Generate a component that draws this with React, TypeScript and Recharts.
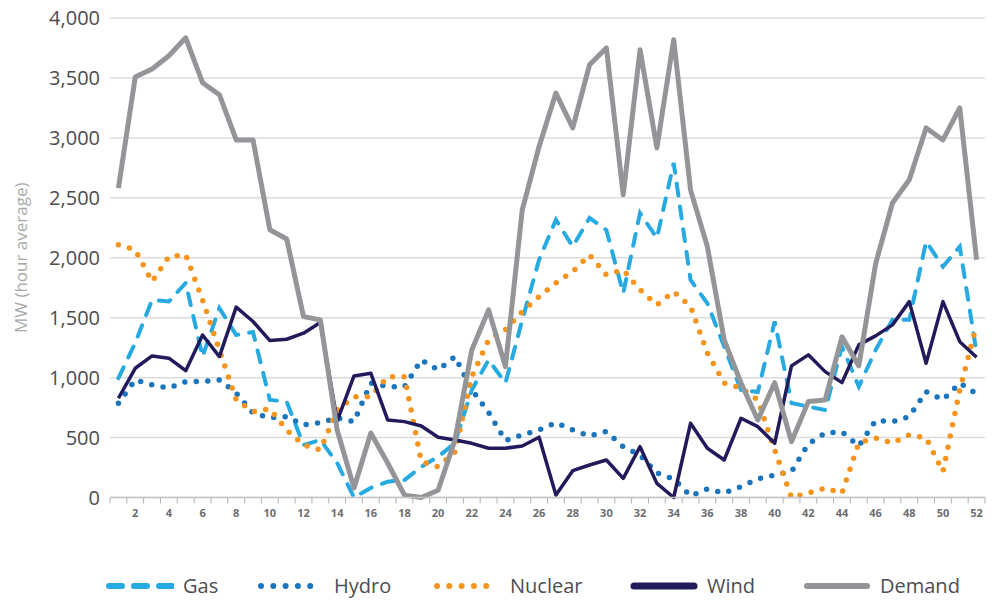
import React from 'react';
import { LineChart, Line, XAxis, YAxis, CartesianGrid } from 'recharts';

const WEEKS = [
  1, 2, 3, 4, 5, 6, 7, 8, 9, 10, 11, 12, 13, 14, 15, 16, 17, 18, 19, 20, 21, 22, 23, 24, 25, 26,
  27, 28, 29, 30, 31, 32, 33, 34, 35, 36, 37, 38, 39, 40, 41, 42, 43, 44, 45, 46, 47, 48, 49, 50, 51, 52,
];

const GAS = [
  995, 1290, 1648, 1635, 1790, 1175, 1580, 1356, 1380, 814, 800, 438, 480, 288, 0, 80, 132, 146, 257, 340,
  455, 897, 1148, 955, 1480, 1983, 2317, 2093, 2332, 2230, 1705, 2372, 2164, 2790, 1815, 1620, 1259, 897,
  880, 1468, 788, 758, 730, 1259, 925, 1231, 1482, 1482, 2135, 1926, 2093, 1206,
];
const HYDRO = [
  786, 981, 939, 914, 967, 967, 981, 872, 705, 664, 675, 605, 624, 664, 633, 955, 925, 922, 1148, 1064,
  1175, 900, 710, 474, 522, 563, 624, 563, 513, 550, 424, 355, 204, 155, 12, 71, 37, 90, 155, 188,
  216, 447, 538, 547, 430, 641, 633, 675, 883, 814, 955, 864,
];
const NUCLEAR = [
  2108, 2066, 1801, 2010, 2024, 1648, 1231, 814, 716, 739, 563, 438, 397, 730, 841, 841, 1008, 1008, 300, 257,
  380, 1008, 1315, 1398, 1551, 1676, 1790, 1885, 2024, 1857, 1899, 1732, 1607, 1718, 1593, 1206, 955, 914,
  814, 397, 0, 37, 79, 37, 455, 497, 455, 522, 497, 216, 897, 1440,
];
const WIND = [
  828, 1078, 1181, 1162, 1058, 1356, 1175, 1588, 1468, 1309, 1320, 1371, 1459, 640, 1014, 1037, 647, 633, 597, 503,
  480, 452, 411, 411, 430, 503, 21, 224, 271, 313, 160, 424, 118, 0, 619, 411, 313, 661, 591, 452,
  1098, 1190, 1050, 958, 1273, 1348, 1440, 1634, 1120, 1634, 1300, 1170,
];
const DEMAND = [
  2581, 3507, 3575, 3685, 3835, 3460, 3360, 2983, 2983, 2233, 2157, 1509, 1482, 563, 80, 538, 288, 20, 0, 60,
  480, 1231, 1565, 1092, 2400, 2928, 3374, 3083, 3610, 3750, 2525, 3735, 2916, 3819, 2566, 2093, 1315, 955,
  647, 958, 466, 800, 814, 1340, 1098, 1950, 2457, 2650, 3083, 2983, 3250, 1983,
];

const Y_TICKS = [0, 500, 1000, 1500, 2000, 2500, 3000, 3500, 4000];

const SERIES = [
  { key: 'gas', name: 'Gas', color: '#27aae1' },
  { key: 'hydro', name: 'Hydro', color: '#1b75bc' },
  { key: 'nuclear', name: 'Nuclear', color: '#f7941d' },
  { key: 'wind', name: 'Wind', color: '#211a5b' },
  { key: 'demand', name: 'Demand', color: '#939598' },
];

const data = WEEKS.map((week, i) => ({
  week,
  gas: GAS[i],
  hydro: HYDRO[i],
  nuclear: NUCLEAR[i],
  wind: WIND[i],
  demand: DEMAND[i],
}));

const W = 994;
const H = 540;
const PLOT_LEFT = 110;
const PLOT_RIGHT = 985;
const STEP = (PLOT_RIGHT - PLOT_LEFT) / WEEKS.length;
const FONT = '"Open Sans", "DejaVu Sans", sans-serif';
const TEXT = '#4d4d4f';

function WeekTick({ x, y, payload, index }: any) {
  const half = STEP / 2;
  const last = index === WEEKS.length - 1;
  return (
    <g>
      <line x1={x - half} x2={x - half} y1={y} y2={y + 6} stroke="#b3b3b3" strokeWidth={1} />
      {last && <line x1={x + half} x2={x + half} y1={y} y2={y + 6} stroke="#b3b3b3" strokeWidth={1} />}
      {payload.value % 2 === 0 && (
        <text x={x} y={y + 19} textAnchor="middle" fontSize={11} fontWeight={700} fill="#6d6e71">
          {payload.value}
        </text>
      )}
    </g>
  );
}

function YLabel({ viewBox }: any) {
  const cx = 20;
  const cy = viewBox.y + viewBox.height / 2;
  return (
    <text
      transform={`translate(${cx},${cy}) rotate(-90)`}
      textAnchor="middle"
      dominantBaseline="central"
      fontSize={17}
      fill="#a7a9ac"
    >
      MW (hour average)
    </text>
  );
}

function LegendIcon({ k, color }: { k: string; color: string }) {
  if (k === 'gas') {
    return (
      <svg width={68} height={10}>
        <line x1={3} x2={66} y1={5} y2={5} stroke={color} strokeWidth={6} strokeLinecap="round" strokeDasharray="13 12" />
      </svg>
    );
  }
  if (k === 'hydro' || k === 'nuclear') {
    return (
      <svg width={68} height={10}>
        <line x1={4} x2={60} y1={5} y2={5} stroke={color} strokeWidth={6} strokeLinecap="round" strokeDasharray="0 12.3" />
      </svg>
    );
  }
  return (
    <svg width={68} height={10}>
      <line x1={4} x2={64} y1={5} y2={5} stroke={color} strokeWidth={k === 'wind' ? 7 : 6} strokeLinecap="round" />
    </svg>
  );
}

const LEGEND_LEFT = [106, 257, 433, 630, 803];

function ChartLegend() {
  return (
    <div style={{ position: 'absolute', top: 574, left: 0, width: W, height: 24 }}>
      {SERIES.map((s, i) => (
        <div
          key={s.key}
          style={{ position: 'absolute', left: LEGEND_LEFT[i], top: 0, display: 'flex', alignItems: 'center', height: 24 }}
        >
          <LegendIcon k={s.key} color={s.color} />
          <span style={{ marginLeft: 9, fontSize: 20, color: TEXT, lineHeight: '24px' }}>{s.name}</span>
        </div>
      ))}
    </div>
  );
}

export default function App() {
  return (
    <div style={{ position: 'relative', width: W, height: 602, background: '#fff', fontFamily: FONT }}>
      <style>{'body{margin:0}'}</style>
      <LineChart width={W} height={H} data={data} margin={{ top: 18, right: W - PLOT_RIGHT, bottom: 2.5, left: 0 }}>
        <CartesianGrid horizontal vertical={false} stroke="#dcdcdc" strokeWidth={1.5} />
        <XAxis
          dataKey="week"
          interval={0}
          height={40}
          tickLine={false}
          tickSize={0}
          tickMargin={0}
          axisLine={{ stroke: '#c4c4c4', strokeWidth: 1.5 }}
          padding={{ left: STEP / 2, right: STEP / 2 }}
          tick={<WeekTick />}
        />
        <YAxis
          width={PLOT_LEFT}
          domain={[0, 4000]}
          ticks={Y_TICKS}
          axisLine={false}
          tickLine={false}
          tickSize={0}
          tickMargin={10}
          tick={{ fontSize: 20, fill: TEXT }}
          tickFormatter={(v: number) => v.toLocaleString('en-US')}
          label={{ content: <YLabel /> }}
        />
        <Line
          dataKey="gas"
          name="Gas"
          type="linear"
          stroke="#27aae1"
          strokeWidth={4}
          strokeDasharray="12 11"
          strokeLinecap="round"
          dot={false}
          isAnimationActive={false}
        />
        <Line
          dataKey="hydro"
          name="Hydro"
          type="linear"
          stroke="#1b75bc"
          strokeWidth={5.5}
          strokeDasharray="0 11.5"
          strokeLinecap="round"
          dot={false}
          isAnimationActive={false}
        />
        <Line
          dataKey="nuclear"
          name="Nuclear"
          type="linear"
          stroke="#f7941d"
          strokeWidth={5.5}
          strokeDasharray="0 11.5"
          strokeLinecap="round"
          dot={false}
          isAnimationActive={false}
        />
        <Line
          dataKey="wind"
          name="Wind"
          type="linear"
          stroke="#211a5b"
          strokeWidth={3.5}
          strokeLinejoin="round"
          dot={false}
          isAnimationActive={false}
        />
        <Line
          dataKey="demand"
          name="Demand"
          type="linear"
          stroke="#939598"
          strokeWidth={5}
          strokeLinejoin="round"
          dot={false}
          isAnimationActive={false}
        />
      </LineChart>
      <ChartLegend />
    </div>
  );
}
